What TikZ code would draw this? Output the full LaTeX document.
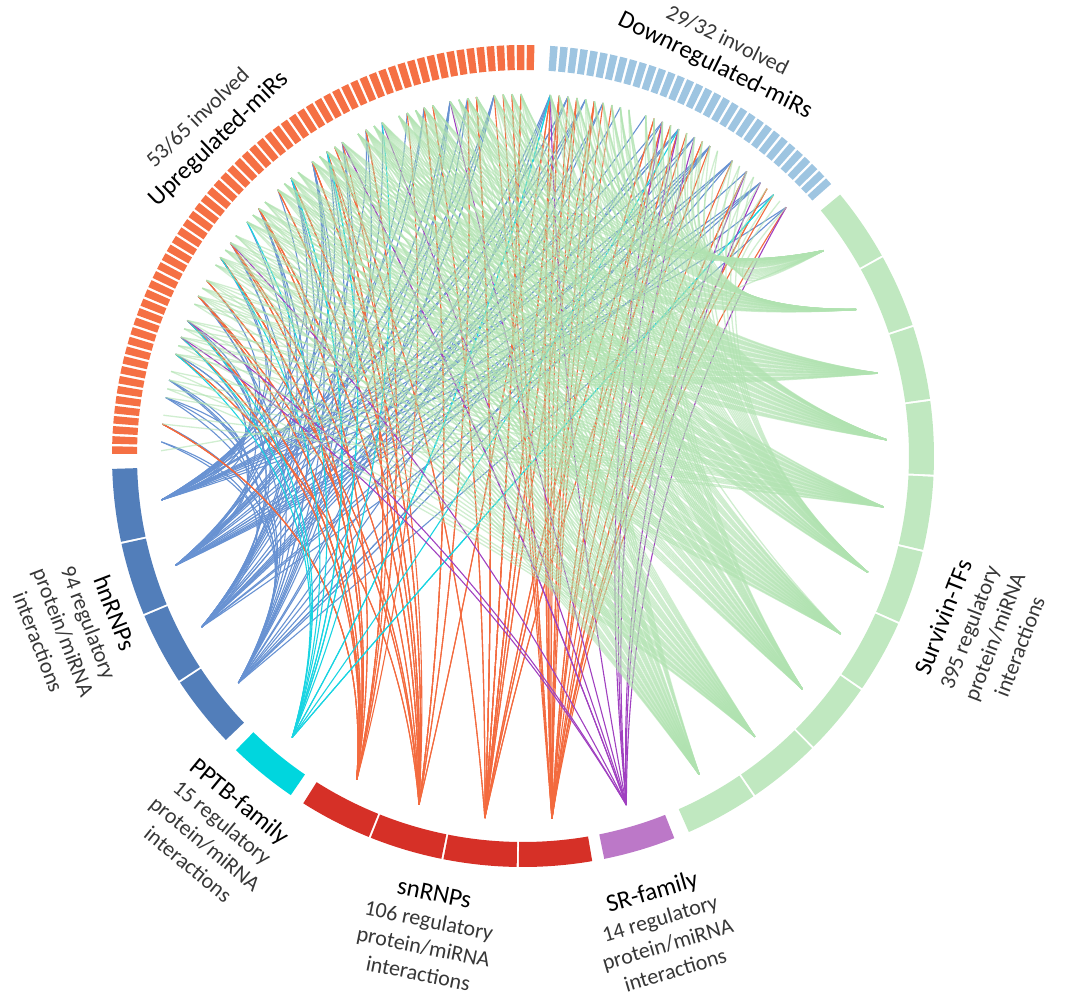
\documentclass[tikz,border=0pt]{standalone}
\usepackage{fontspec}
\setmainfont{Carlito}
\usepackage{tikz}
\usetikzlibrary{calc}

\definecolor{upcol}{RGB}{245,112,68}
\definecolor{downcol}{RGB}{158,197,225}
\definecolor{tfcol}{RGB}{192,232,192}
\definecolor{srcol}{RGB}{188,120,200}
\definecolor{sncol}{RGB}{214,48,39}
\definecolor{ptcol}{RGB}{0,214,222}
\definecolor{hncol}{RGB}{82,126,186}
\definecolor{tflink}{RGB}{176,226,176}
\definecolor{hnlink}{RGB}{104,146,210}
\definecolor{snlink}{RGB}{243,106,62}
\definecolor{ptlink}{RGB}{25,212,226}
\definecolor{srlink}{RGB}{160,64,192}
\definecolor{subgray}{RGB}{55,55,55}

\newcommand{\hdrfont}{\fontsize{25}{30}\selectfont}
\newcommand{\subfont}{\fontsize{22}{27}\selectfont}

%Ring piece from angle #1 to #2
\newcommand{\ringbar}[3]{%
  \fill[#3] (#1:386) arc[start angle=#1, end angle=#2, radius=386]
    -- (#2:411) arc[start angle=#2, end angle=#1, radius=411] -- cycle;}

%Link from miRNA number #3 to protein tip at angle #2
\newcommand{\mirlink}[3]{%
  \pgfmathsetmacro{\mirang}{#3<53 ? 179.17-1.41*floor(#3*65/53) : 85.675-1.41*floor((#3-53)*32/29)}%
  \draw[#1] (\mirang:362) .. controls ($0.52*(\mirang:362)+0.19*(#2:364)$)
    and ($0.19*(\mirang:362)+0.52*(#2:364)$) .. (#2:364);}

\begin{document}
\begin{tikzpicture}[x=1pt, y=1pt,
    hnline/.style={draw=hnlink, line width=1.1pt},
    snline/.style={draw=snlink, line width=1.1pt},
    ptline/.style={draw=ptlink, line width=1.1pt},
    srline/.style={draw=srlink, line width=1.1pt},
    tfline/.style={draw=tflink, line width=1.3pt, opacity=0.6},
    toplabel/.style={anchor=south, align=center, inner sep=0pt, font=\subfont},
    botlabel/.style={anchor=north, align=center, inner sep=0pt, font=\subfont, text=subgray}]
	\useasboundingbox (-523,-546) rectangle (542,456);

	%Upregulated miRs
	\foreach \u in {0,...,64}{
		\pgfmathsetmacro{\ba}{179.7-1.41*\u}
		\pgfmathsetmacro{\bb}{\ba-1.06}
		\ringbar{\ba}{\bb}{upcol}
	}
	%Downregulated miRs
	\foreach \d in {0,...,31}{
		\pgfmathsetmacro{\ba}{86.2-1.41*\d}
		\pgfmathsetmacro{\bb}{\ba-1.05}
		\ringbar{\ba}{\bb}{downcol}
	}
	%Survivin-TFs
	\foreach \k in {0,...,9}{
		\pgfmathsetmacro{\ba}{39.5-10.6*\k}
		\pgfmathsetmacro{\bb}{\ba-10.3}
		\ringbar{\ba}{\bb}{tfcol}
	}
	%SR-family
	\ringbar{-68.4}{-78.6}{srcol}
	%snRNPs
	\foreach \k in {0,...,3}{
		\pgfmathsetmacro{\ba}{-80.3-10.58*\k}
		\pgfmathsetmacro{\bb}{\ba-10.28}
		\ringbar{\ba}{\bb}{sncol}
	}
	%PPTB-family
	\ringbar{-124.4}{-134.3}{ptcol}
	%hnRNPs
	\foreach \k in {0,...,3}{
		\pgfmathsetmacro{\ba}{-136.3-10.55*\k}
		\pgfmathsetmacro{\bb}{\ba-10.25}
		\ringbar{\ba}{\bb}{hncol}
	}

	%Links to hnRNPs
	\foreach \tip/\num/\seed in {-141.43/24/5, -151.98/23/29, -162.53/24/47, -173.08/23/71}{
		\foreach \j in {1,...,\num}{
			\pgfmathtruncatemacro{\idx}{mod(\seed+13*\j+7*\j*\j,82)}
			\mirlink{hnline}{\tip}{\idx}
		}
	}
	%Links to snRNPs (first miRNA, span of miRNAs)
	\foreach \tip/\num/\seed/\lo/\span in {-85.44/27/11/45/37, -96.02/26/37/33/38, -106.6/27/59/8/46, -117.18/26/3/0/44}{
		\foreach \j in {1,...,\num}{
			\pgfmathtruncatemacro{\idx}{\lo+mod(\seed+17*\j+5*\j*\j,\span)}
			\mirlink{snline}{\tip}{\idx}
		}
	}
	%Links to PPTB-family
	\foreach \j in {1,...,15}{
		\pgfmathtruncatemacro{\idx}{mod(19+11*\j+3*\j*\j,82)}
		\mirlink{ptline}{-129.35}{\idx}
	}
	%Links to SR-family
	\foreach \j in {1,...,14}{
		\pgfmathtruncatemacro{\idx}{mod(43+29*\j+5*\j*\j,82)}
		\mirlink{srline}{-73.5}{\idx}
	}
	%Links to Survivin-TFs (runs of neighbouring miRNAs)
	\foreach \tip/\num/\lo in {34.35/40/42, 23.75/40/30, 13.15/39/8, 2.55/40/22,
	    -8.05/39/2, -18.65/40/36, -29.25/39/14, -39.85/40/26, -50.45/39/5, -61.05/39/18}{
		\foreach \j in {1,...,\num}{
			\pgfmathtruncatemacro{\idx}{mod(\lo+\j,82)}
			\mirlink{tfline}{\tip}{\idx}
		}
	}

	%Group labels
	\node[toplabel, rotate=43.85] (uplab) at (133.85:428) {{\color{subgray}53/65 involved}\\[3pt]{\hdrfont Upregulated-miRs}};
	\node[toplabel, rotate=-26.2] (downlab) at (63.8:424) {{\color{subgray}29/32 involved}\\[1pt]{\hdrfont Downregulated-miRs}};
	\node[botlabel, rotate=69] (tflab) at (-21:441) {{\hdrfont\color{black}Survivin-TFs}\\395 regulatory\\protein/miRNA\\interactions};
	\node[botlabel, rotate=16.5] (srlab) at (-73.5:445) {{\hdrfont\color{black}SR-family}\\14 regulatory\\protein/miRNA\\interactions};
	\node[botlabel, rotate=-11.45] (snlab) at (-101.45:438) {{\hdrfont\color{black}snRNPs}\\106 regulatory\\protein/miRNA\\interactions};
	\node[botlabel, rotate=-39.35] (ptlab) at (-129.35:437) {{\hdrfont\color{black}PPTB-family}\\15 regulatory\\protein/miRNA\\interactions};
	\node[botlabel, rotate=-69] (hnlab) at (-159:428) {{\hdrfont\color{black}hnRNPs}\\94 regulatory\\protein/miRNA\\interactions};

\end{tikzpicture}
\end{document}
